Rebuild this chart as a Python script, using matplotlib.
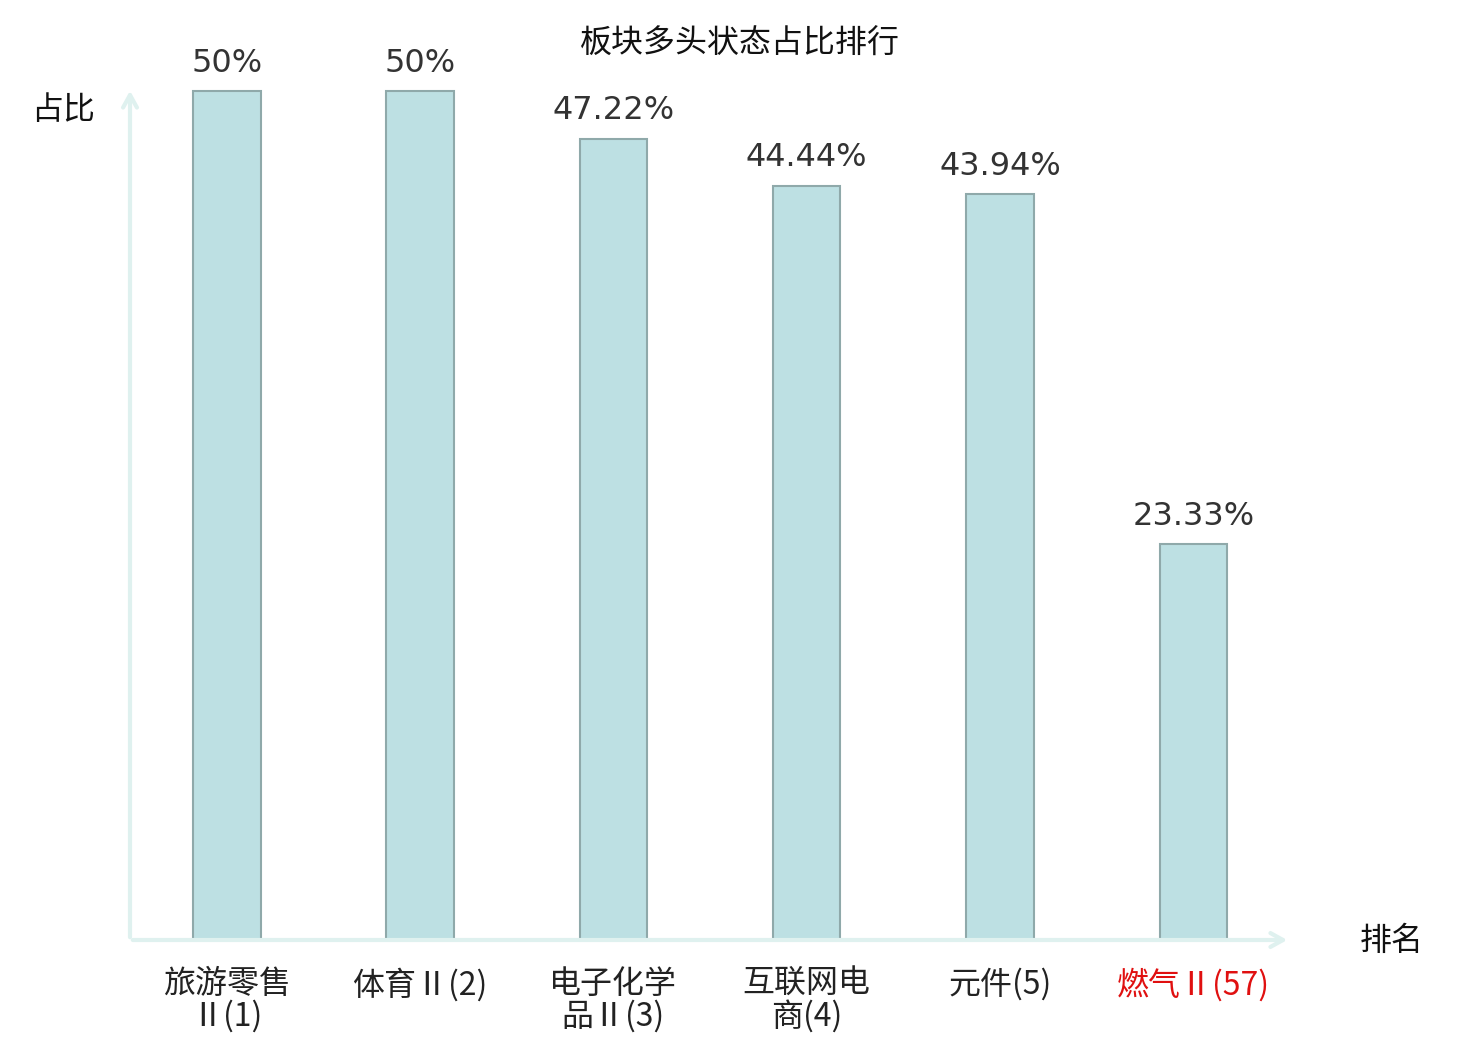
import matplotlib
matplotlib.use("Agg")
import matplotlib.pyplot as plt

plt.rcParams['font.family'] = ['Noto Sans CJK SC', 'DejaVu Sans']

categories = ["旅游零售\nⅡ(1)", "体育Ⅱ(2)", "电子化学\n品Ⅱ(3)", "互联网电\n商(4)", "元件(5)", "燃气Ⅱ(57)"]
values = [50, 50, 47.22, 44.44, 43.94, 23.33]
value_labels = ["50%", "50%", "47.22%", "44.44%", "43.94%", "23.33%"]
label_colors = ["#222222"] * 5 + ["#e01010"]

W, H = 1480, 1040
fig = plt.figure(figsize=(W / 100, H / 100), dpi=100)
ax = fig.add_axes([130 / W, (H - 940) / H, (1290 - 130) / W, (940 - 88) / H])

x = list(range(len(categories)))
ax.bar(x, values, width=0.35, color="#bde0e3", edgecolor="#8fa9aa", linewidth=1.5, zorder=3)

for xi, v, lab in zip(x, values, value_labels):
    ax.annotate(lab, (xi, v), xytext=(0, 14), textcoords="offset points",
                ha="center", va="baseline", fontsize=23, color="#333333",
                family="DejaVu Sans")

ax.set_xlim(-0.5, 5.5)
ax.set_ylim(0, 50.2)
for s in ax.spines.values():
    s.set_visible(False)
ax.set_yticks([])
ax.set_xticks(x)
ax.set_xticklabels(categories, fontsize=23, linespacing=1.0)
for t, c in zip(ax.get_xticklabels(), label_colors):
    t.set_color(c)
ax.tick_params(axis="x", length=0, pad=20)

axis_color = "#dff1ef"
ax.annotate("", xy=(1.0, 0), xytext=(0, 0), xycoords="axes fraction",
            arrowprops=dict(arrowstyle="->,head_width=0.5,head_length=0.9",
                            color=axis_color, lw=3), annotation_clip=False)
ax.annotate("", xy=(0, 1.0), xytext=(0, 0), xycoords="axes fraction",
            arrowprops=dict(arrowstyle="->,head_width=0.5,head_length=0.9",
                            color=axis_color, lw=3), annotation_clip=False)

fig.text(740 / W, 1 - 44 / H, "板块多头状态占比排行", ha="center", va="center",
         fontsize=23, color="#111111")
fig.text(63 / W, 1 - 110 / H, "占比", ha="center", va="center", fontsize=23, color="#111111")
fig.text(1392 / W, 1 - 941 / H, "排名", ha="center", va="center", fontsize=23, color="#111111")

fig.savefig("out.png", dpi=100)
